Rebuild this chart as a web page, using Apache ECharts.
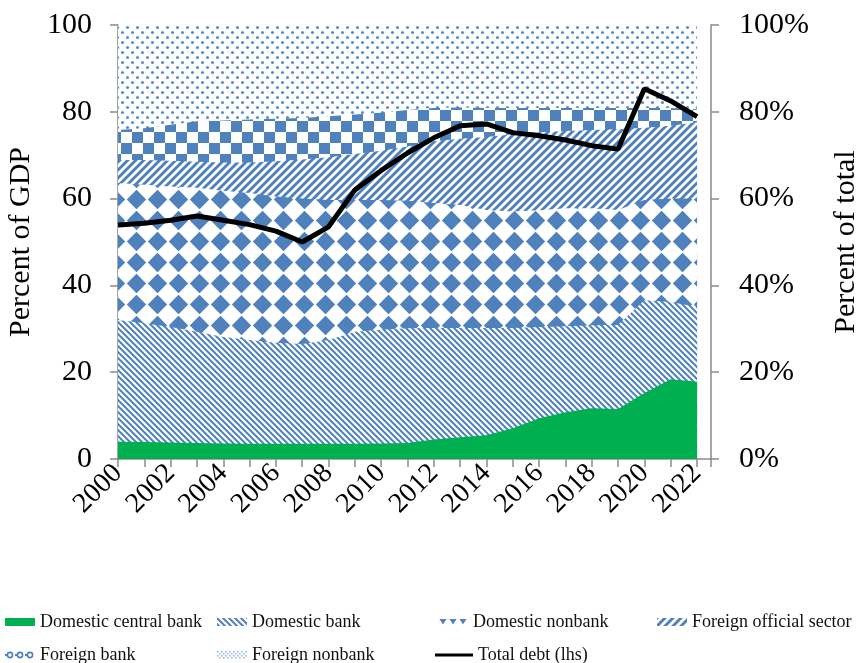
<!DOCTYPE html>
<html><head><meta charset="utf-8">
<script src="https://cdn.jsdelivr.net/npm/echarts@6/dist/echarts.min.js"></script>
<style>html,body{margin:0;padding:0;background:#fff}#c{width:857px;height:663px}</style>
</head><body><div id="c"></div>
<script>
// ---- data ----
const years = [2000,2001,2002,2003,2004,2005,2006,2007,2008,2009,2010,2011,2012,2013,2014,2015,2016,2017,2018,2019,2020,2021,2022];
const xTickLabels = ['2000','2002','2004','2006','2008','2010','2012','2014','2016','2018','2020','2022'];
const leftTickLabels = ['0','20','40','60','80','100'];
const rightTickLabels = ['0%','20%','40%','60%','80%','100%'];
const domesticCentralBank = [4.0,3.9,3.8,3.7,3.6,3.5,3.5,3.5,3.5,3.5,3.6,3.7,4.5,5.0,5.5,7.1,9.4,10.8,11.7,11.5,15.2,18.4,17.8];
const domesticBank        = [28.0,27.4,26.6,25.6,24.5,23.9,23.3,23.0,23.9,25.8,26.2,26.4,25.7,25.2,24.7,23.1,21.0,19.8,19.1,19.4,21.4,17.8,17.2];
const domesticNonbank     = [31.6,31.9,32.4,33.2,33.7,33.9,33.7,33.5,32.3,30.4,29.9,29.4,28.8,28.3,27.2,26.8,26.9,27.2,27.0,26.5,23.1,23.8,25.0];
const foreignOfficial     = [5.3,5.7,5.9,6.0,6.5,7.0,8.1,9.0,9.8,10.6,11.3,12.5,14.2,15.3,16.8,17.8,18.0,17.8,18.0,18.6,16.6,16.8,17.6];
const foreignBank         = [6.9,7.3,8.3,9.3,9.7,9.9,9.8,9.6,9.5,9.1,8.8,8.4,7.7,7.2,6.7,6.1,5.6,5.3,5.1,4.9,4.6,4.1,3.0];
const foreignNonbank      = [24.2,23.8,23.0,22.2,22.0,21.8,21.6,21.4,21.0,20.6,20.2,19.6,19.1,19.0,19.1,19.1,19.1,19.1,19.1,19.1,19.1,19.1,19.4];
const totalDebt           = [53.9,54.3,55.0,56.0,55.0,54.0,52.5,50.0,53.5,62.0,66.5,70.5,74.0,76.8,77.2,75.2,74.5,73.5,72.2,71.4,85.3,82.5,78.9];
const seriesNames = ['Domestic central bank','Domestic bank','Domestic nonbank','Foreign official sector','Foreign bank','Foreign nonbank','Total debt (lhs)'];

// ---- fill patterns ----
const BLUE = '#4F81BD';
function mk(w, h, draw) {
  const c = document.createElement('canvas'); c.width = w; c.height = h;
  const g = c.getContext('2d'); g.fillStyle = '#fff'; g.fillRect(0, 0, w, h);
  draw(g, w, h); return { image: c, repeat: 'repeat' };
}
const patDomBank = () => mk(6, 6, (g) => { g.strokeStyle = BLUE; g.lineWidth = 2;
  for (const k of [-6, 0, 6]) { g.beginPath(); g.moveTo(k - 1, -1); g.lineTo(k + 7, 7); g.stroke(); } });
const patDomNon = () => mk(21, 21, (g) => { g.fillStyle = BLUE; g.beginPath();
  g.moveTo(10.5, 0.8); g.lineTo(20.2, 10.5); g.lineTo(10.5, 20.2); g.lineTo(0.8, 10.5); g.closePath(); g.fill(); });
const patForOff = () => mk(8, 8, (g) => { g.strokeStyle = BLUE; g.lineWidth = 3;
  for (const k of [-8, 0, 8]) { g.beginPath(); g.moveTo(k - 1, 9); g.lineTo(k + 9, -1); g.stroke(); } });
const patForBank = () => mk(22, 22, (g) => { g.fillStyle = BLUE; g.fillRect(0, 0, 11, 11); g.fillRect(11, 11, 11, 11); });
const patForNon = () => mk(10, 10, (g) => { g.fillStyle = '#5F8FCB';
  g.beginPath(); g.arc(2.5, 2.5, 1.6, 0, Math.PI * 2); g.fill();
  g.beginPath(); g.arc(7.5, 7.5, 1.6, 0, Math.PI * 2); g.fill(); });
const fillMakers = [() => '#00B050', patDomBank, patDomNon, patForOff, patForBank, patForNon];
// small swatches for the legend
const legTri = () => mk(10, 8, (g) => { g.fillStyle = BLUE; g.beginPath(); g.moveTo(1.5, 1); g.lineTo(8.5, 1); g.lineTo(5, 6.5); g.closePath(); g.fill(); });
const legChk = () => mk(10, 8, (g) => { g.strokeStyle = BLUE; g.lineWidth = 1.6; g.beginPath(); g.arc(5, 4, 2.6, 0, Math.PI * 2); g.stroke(); g.fillStyle = BLUE; g.fillRect(0, 3, 2, 2); });
const legDots = () => mk(4, 4, (g) => { g.fillStyle = '#9DBCE3'; g.fillRect(0, 0, 1.6, 1.6); g.fillRect(2, 2, 1.6, 1.6); });
const legendFills = [() => '#00B050', patDomBank, legTri, patForOff, legChk, legDots, () => '#000'];

const areaData = [domesticCentralBank, domesticBank, domesticNonbank, foreignOfficial, foreignBank, foreignNonbank];
// cumulative tops (stacked from the component arrays)
const cumulative = [];
areaData.forEach((arr, i) => cumulative.push(arr.map((v, j) => v + (i ? cumulative[i - 1][j] : 0))));

const FONT = 'Liberation Serif';
const AX = { color: '#8a8a8a', width: 1.5 };
const pair = (arr) => years.map((y, i) => [y, arr[i]]);

const series = [];
for (let i = areaData.length - 1; i >= 0; i--) {
  series.push({
    name: seriesNames[i], type: 'line', yAxisIndex: 1,
    data: pair(cumulative[i]), symbol: 'none', lineStyle: { width: 0 },
    itemStyle: { color: BLUE }, areaStyle: { color: fillMakers[i](), opacity: 1, origin: 'start' },
    z: 2 + (areaData.length - i)
  });
}
series.push({ name: seriesNames[6], type: 'line', yAxisIndex: 0, data: pair(totalDebt), symbol: 'none',
  lineStyle: { color: '#000', width: 5 }, itemStyle: { color: '#000' }, z: 20 });

const legendPos = [[0, 608, 8], [212, 608, 8], [433, 608, 8], [652, 608, 8], [0, 641, 8], [212, 641, 8], [430, 641, 3]];
const legends = seriesNames.map((n, i) => ({
  left: legendPos[i][0], top: legendPos[i][1], itemWidth: (i === 6 ? 38 : 30), itemHeight: legendPos[i][2],
  itemGap: 0, selectedMode: false,
  textStyle: { fontFamily: FONT, fontSize: 18, color: '#111' },
  data: [{ name: n, icon: 'rect', itemStyle: { color: legendFills[i]() } }]
}));

const chart = echarts.init(document.getElementById('c'), null, { renderer: 'canvas' });
chart.setOption({
  animation: false,
  backgroundColor: '#fff',
  legend: legends,
  grid: { left: 118, right: 146, top: 25, bottom: 204, containLabel: false, outerBoundsMode: 'none' },
  xAxis: {
    type: 'value', min: 2000, max: 2022.53, interval: 1,
    axisLine: { lineStyle: AX }, axisTick: { length: 8, lineStyle: AX }, splitLine: { show: false },
    axisLabel: { rotate: 45, margin: 10, fontFamily: FONT, fontSize: 28, color: '#000',
      formatter: (v) => xTickLabels.includes(String(v)) ? String(v) : '' }
  },
  yAxis: [
    { type: 'value', position: 'left', min: 0, max: 100, interval: 20,
      name: 'Percent of GDP', nameLocation: 'middle', nameGap: 78, nameRotate: 90,
      nameTextStyle: { fontFamily: FONT, fontSize: 30, color: '#000' },
      axisLine: { show: true, lineStyle: AX }, axisTick: { show: true, length: 8, lineStyle: AX },
      splitLine: { show: false },
      axisLabel: { margin: 26, fontFamily: FONT, fontSize: 30, color: '#000',
        formatter: (v) => leftTickLabels[Math.round(v / 20)] } },
    { type: 'value', position: 'right', min: 0, max: 100, interval: 20,
      name: 'Percent of total', nameLocation: 'middle', nameGap: 120, nameRotate: 90,
      nameTextStyle: { fontFamily: FONT, fontSize: 30, color: '#000' },
      axisLine: { show: true, lineStyle: AX }, axisTick: { show: true, length: 8, lineStyle: AX },
      splitLine: { show: false },
      axisLabel: { margin: 28, fontFamily: FONT, fontSize: 30, color: '#000',
        formatter: (v) => rightTickLabels[Math.round(v / 20)] } }
  ],
  series
});
</script></body></html>
